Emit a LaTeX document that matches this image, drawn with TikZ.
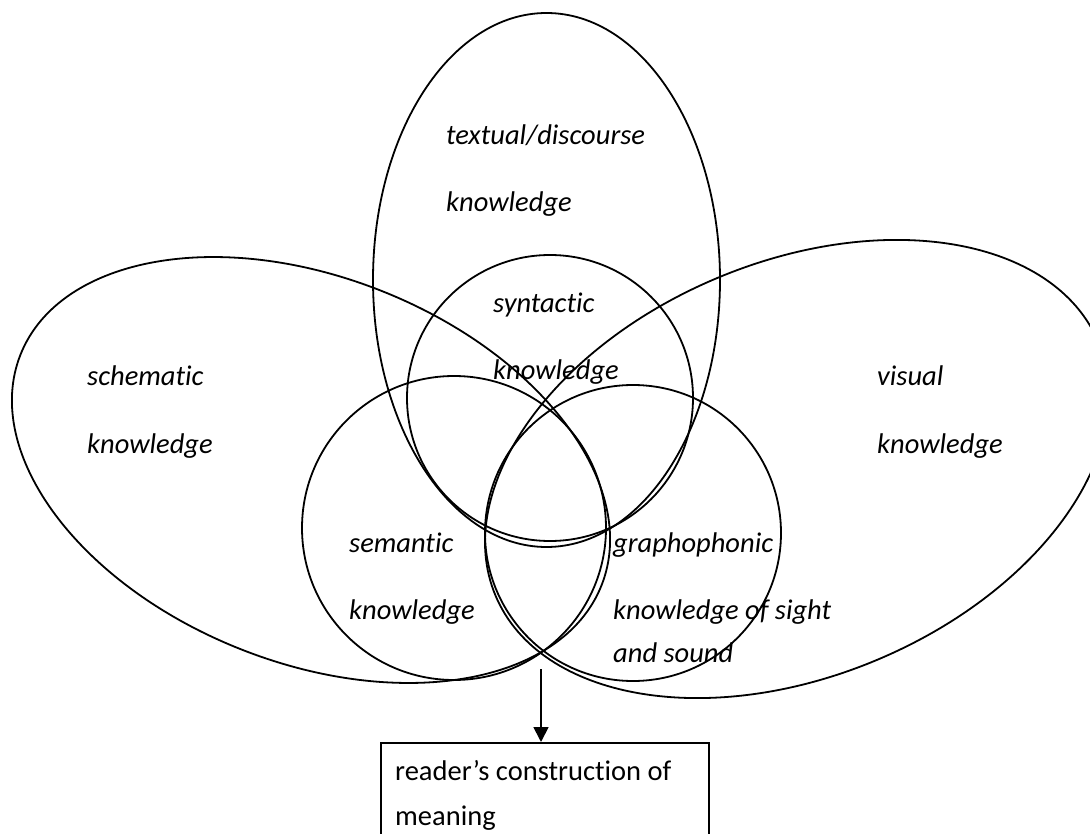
\documentclass[tikz,border=0pt]{standalone}
\usepackage{fontspec}
\setmainfont{Carlito}[Ligatures=NoCommon]
\usetikzlibrary{arrows.meta}
\begin{document}
\begin{tikzpicture}[x=1pt,y=-1pt,
  curve/.style={line width=1.8pt},
  lbl/.style={anchor=base west, inner sep=0pt, font=\fontsize{28.5}{34}\selectfont\itshape},
  boxtxt/.style={anchor=base west, inner sep=0pt, font=\fontsize{28.5}{34}\selectfont},
  box/.style={draw, line width=1.8pt, anchor=north west, minimum width=328pt, minimum height=110pt, inner sep=0pt},
  arr/.style={line width=1.8pt, -{Triangle[width=15pt,length=15pt]}}
]
\clip (0,0) rectangle (1090,834);
\fill[white] (0,0) rectangle (1090,834);
% textual/discourse ellipse
\draw[curve] (546.5,280) ellipse [x radius=173.5pt, y radius=267pt];
% schematic ellipse
\draw[curve, rotate around={-21.7:(311,470)}] (311,470) ellipse [x radius=312.6pt, y radius=192.5pt];
% visual ellipse
\draw[curve, rotate around={22.8:(797,469)}] (797,469) ellipse [x radius=327pt, y radius=207pt];
% circles
\draw[curve] (550,398) circle [radius=143pt];
\draw[curve] (454,528) circle [radius=152pt];
\draw[curve] (633,533) circle [radius=148pt];
% labels
\node[lbl] (t1) at (446,145) {textual/discourse};
\node[lbl] (t2) at (446,212) {knowledge};
\node[lbl] (sy1) at (493,313) {syntactic};
\node[lbl] (sy2) at (493,380) {knowledge};
\node[lbl] (sc1) at (87,385) {schematic};
\node[lbl] (sc2) at (87,453) {knowledge};
\node[lbl] (v1) at (877,385) {visual};
\node[lbl] (v2) at (877,453) {knowledge};
\node[lbl] (se1) at (349,552) {semantic};
\node[lbl] (se2) at (349,619) {knowledge};
\node[lbl] (g1) at (613,552) {graphophonic};
\node[lbl] (g2) at (613,619) {knowledge of sight};
\node[lbl] (g3) at (613,662) {and sound};
% box
\node[box] (box) at (380,742) {};
\node[boxtxt] (b1) at (395,780) {reader’s construction of};
\node[boxtxt] (b2) at (395,825) {meaning};
\coordinate (meet) at (541,669);
\draw[arr] (meet) -- (meet |- box.north);
\end{tikzpicture}
\end{document}
